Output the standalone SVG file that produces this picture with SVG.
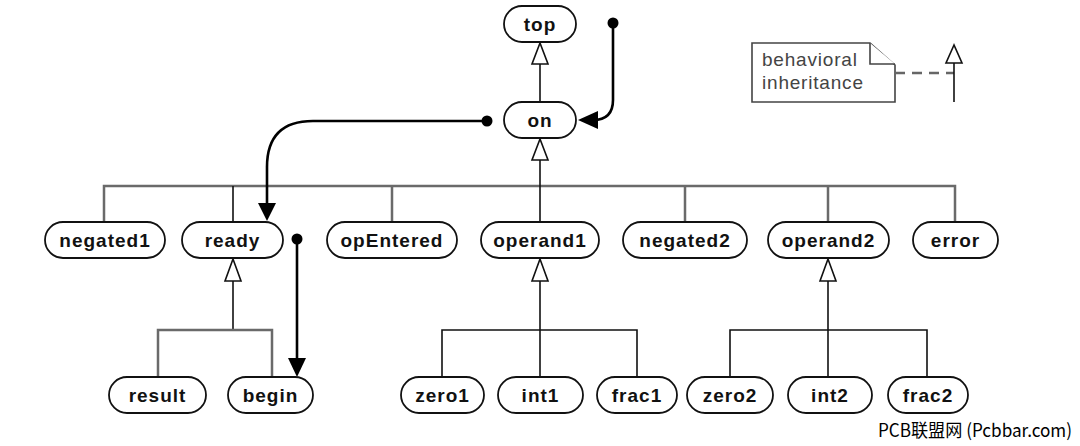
<svg xmlns="http://www.w3.org/2000/svg" width="1080" height="446" viewBox="0 0 1080 446">
<style>
.node rect{fill:#fff;stroke:#111;stroke-width:1.8}
.node text{font-family:"Liberation Sans",Arial,sans-serif;font-weight:bold;font-size:19px;letter-spacing:1px;fill:#111;text-anchor:middle}
.bus{fill:none;stroke:#6a6a6a;stroke-width:2.5}
.inh{fill:none;stroke:#111;stroke-width:1.6}
.tri{fill:#fff;stroke:#111;stroke-width:1.6;stroke-linejoin:miter}
.tr{fill:none;stroke:#000;stroke-width:2.6}
.dot{fill:#000}
.head{fill:#000}
.note{fill:#fff;stroke:#444;stroke-width:1.6}
.ntext{font-family:"Liberation Sans",Arial,sans-serif;font-size:19px;letter-spacing:0.8px;fill:#444}
</style>
<rect width="1080" height="446" fill="#fff"/>

<g id="connectors">
  <path class="bus" d="M104,222 V186 H955 V222"/>
  <path class="bus" d="M392,186 V222 M685,186 V222 M828,186 V222"/>
  <path class="inh" d="M233,186 V222"/>
  <path class="inh" d="M540,160 V222"/>
  <polygon class="tri" points="540,139 532,160 548,160"/>
  <path class="inh" d="M540,64 V102"/>
  <polygon class="tri" points="540,43 532,64 548,64"/>
  <path class="inh" d="M233,281 V330"/>
  <polygon class="tri" points="233,259 225,281 241,281"/>
  <path class="bus" d="M158,377 V330 H272 V377"/>
  <path class="inh" d="M540,281 V377"/>
  <polygon class="tri" points="540,259 532,281 548,281"/>
  <path class="inh" d="M442,377 V330 H637 V377"/>
  <path class="inh" d="M828,281 V377"/>
  <polygon class="tri" points="828,259 820,281 836,281"/>
  <path class="inh" d="M730,377 V330 H927 V377"/>
  <circle class="dot" cx="613" cy="23" r="5.5"/>
  <path class="tr" d="M613,23 V100 Q613,120 593,120 H596"/>
  <polygon class="head" points="578,120 598,111 598,129"/>
  <circle class="dot" cx="487" cy="121" r="5.5"/>
  <path class="tr" d="M487,121 H313 Q267,121 267,167 V205"/>
  <polygon class="head" points="267,221 258,203 276,203"/>
  <circle class="dot" cx="297" cy="239" r="5.5"/>
  <path class="tr" d="M297,239 V360"/>
  <polygon class="head" points="297,377 288,358 306,358"/>
</g>

<g id="legend">
  <path class="note" d="M752,43 H870 L895,65 V102 H752 Z"/>
  <path class="note" d="M870,43 V64 H895" fill="none"/>
  <text class="ntext" x="762" y="66">behavioral</text>
  <text class="ntext" x="762" y="89">inheritance</text>
  <path d="M895,73 H954" stroke="#666" stroke-width="2.5" stroke-dasharray="10,7" fill="none"/>
  <path class="inh" d="M954,63 V102" stroke="#555"/>
  <polygon class="tri" points="954,45 946,63 962,63"/>
</g>

<g id="top" class="node"><rect x="504" y="6" width="72" height="36" rx="18"/><text x="540" y="31">top</text></g>
<g id="on" class="node"><rect x="504" y="102" width="72" height="36" rx="18"/><text x="540" y="127">on</text></g>

<g id="negated1" class="node"><rect x="45" y="222" width="120" height="36" rx="18"/><text x="105" y="247">negated1</text></g>
<g id="ready" class="node"><rect x="182" y="222" width="101" height="36" rx="18"/><text x="232.5" y="247">ready</text></g>
<g id="opEntered" class="node"><rect x="327" y="222" width="130" height="36" rx="18"/><text x="392" y="247">opEntered</text></g>
<g id="operand1" class="node"><rect x="481" y="222" width="118" height="36" rx="18"/><text x="540" y="247">operand1</text></g>
<g id="negated2" class="node"><rect x="623" y="222" width="124" height="36" rx="18"/><text x="685" y="247">negated2</text></g>
<g id="operand2" class="node"><rect x="768" y="222" width="121" height="36" rx="18"/><text x="828.5" y="247">operand2</text></g>
<g id="error" class="node"><rect x="913" y="222" width="85" height="36" rx="18"/><text x="955.5" y="247">error</text></g>

<g id="result" class="node"><rect x="109" y="377" width="97" height="36" rx="18"/><text x="157.5" y="402">result</text></g>
<g id="begin" class="node"><rect x="228" y="377" width="85" height="36" rx="18"/><text x="270.5" y="402">begin</text></g>
<g id="zero1" class="node"><rect x="401" y="377" width="83" height="36" rx="18"/><text x="442.5" y="402">zero1</text></g>
<g id="int1" class="node"><rect x="498" y="377" width="85" height="36" rx="18"/><text x="540.5" y="402">int1</text></g>
<g id="frac1" class="node"><rect x="597" y="377" width="80" height="36" rx="18"/><text x="637" y="402">frac1</text></g>
<g id="zero2" class="node"><rect x="687" y="377" width="86" height="36" rx="18"/><text x="730" y="402">zero2</text></g>
<g id="int2" class="node"><rect x="788" y="377" width="84" height="36" rx="18"/><text x="830" y="402">int2</text></g>
<g id="frac2" class="node"><rect x="888" y="377" width="80" height="36" rx="18"/><text x="928" y="402">frac2</text></g>

<text x="878" y="437" font-family="'Noto Sans CJK SC',sans-serif" font-size="18" textLength="194" lengthAdjust="spacingAndGlyphs" fill="#000">PCB联盟网 (Pcbbar.com)</text>
</svg>
